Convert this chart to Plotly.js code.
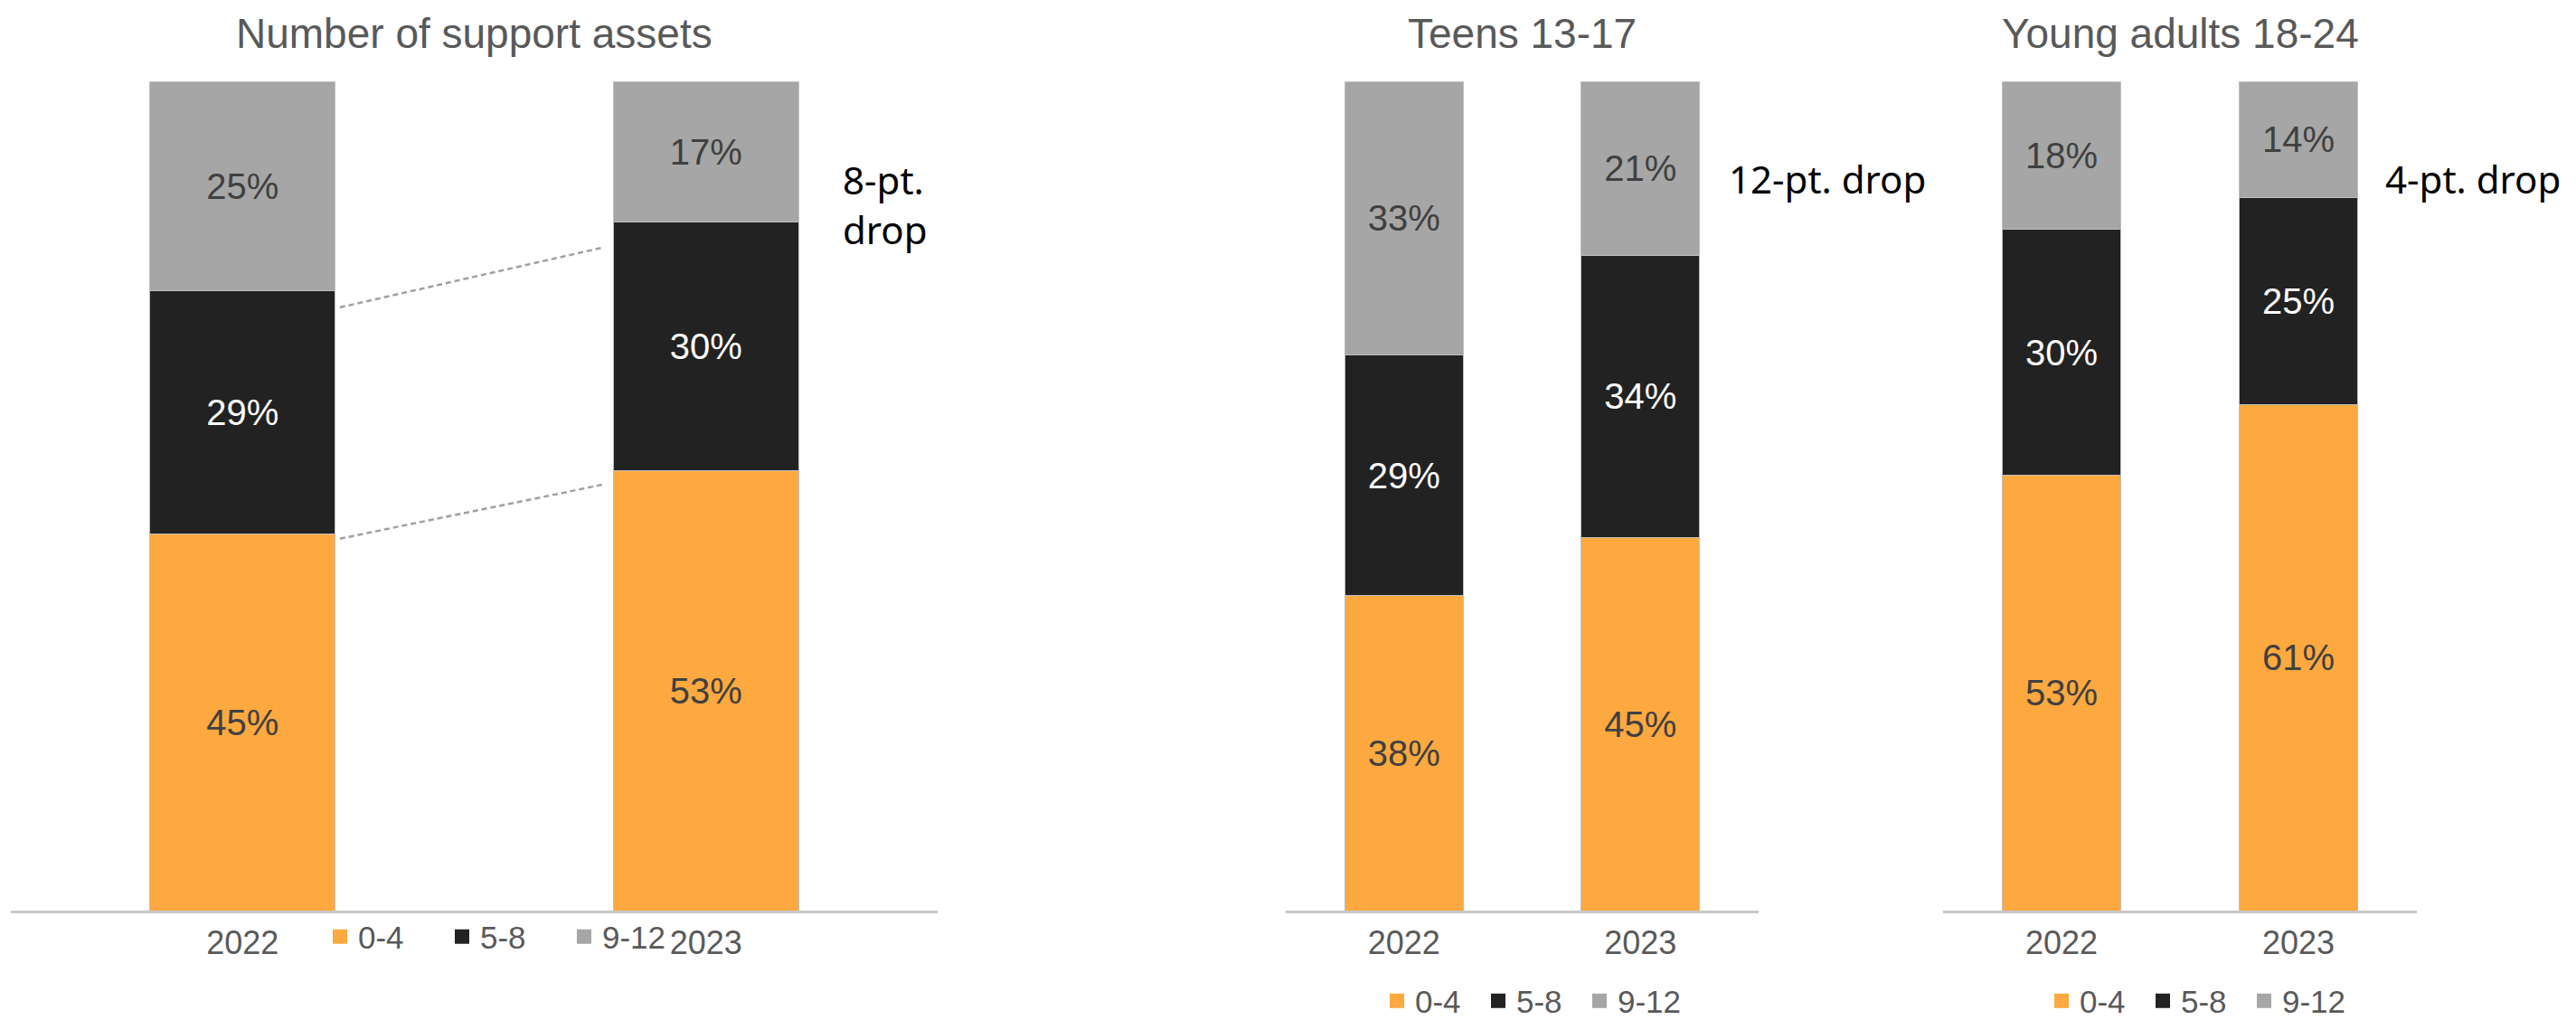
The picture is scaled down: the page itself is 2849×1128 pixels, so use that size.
<!DOCTYPE html>
<html>
<head>
<meta charset="utf-8">
<script src="https://cdn.plot.ly/plotly-3.0.1.min.js"></script>
<style>html,body{margin:0;padding:0;background:#fff;}#chart{width:2849px;height:1128px;}</style>
</head>
<body>
<div id="chart"></div>
<script>
// ---- data ----
const categories = ['2022', '2023'];
const groupLabels = ['0-4', '5-8', '9-12'];
const titles = ['Number of support assets', 'Teens 13-17', 'Young adults 18-24'];
const dropLabels = ['8-pt.<br>drop', '12-pt. drop', '4-pt. drop'];

const allLow = [45, 53];
const allMid = [29, 30];
const allHigh = [25, 17];

const teensLow = [38, 45];
const teensMid = [29, 34];
const teensHigh = [33, 21];

const youngLow = [53, 61];
const youngMid = [30, 25];
const youngHigh = [18, 14];

// ---- style ----
const W = 2849, H = 1128;
const px = v => v / W;
const py = v => 1 - v / H;
const FONT = 'Liberation Sans, Arial, sans-serif';
const colors = ['#FDA940', '#222222', '#A6A6A6'];
const textColors = ['#404040', '#FFFFFF', '#404040'];

const panels = [
  {series: [allLow, allMid, allHigh], ax: '', width: 0.4, dom: [12, 1037], legend: 'legend'},
  {series: [teensLow, teensMid, teensHigh], ax: '2', width: 0.5, dom: [1422, 1945], legend: 'legend2'},
  {series: [youngLow, youngMid, youngHigh], ax: '3', width: 0.5, dom: [2149, 2673], legend: 'legend3'}
];

const traces = [];
panels.forEach((p, pi) => {
  p.series.forEach((vals, si) => {
    traces.push({
      type: 'bar',
      x: categories,
      y: vals,
      width: p.width,
      xaxis: 'x' + p.ax,
      yaxis: 'y' + p.ax,
      name: groupLabels[si],
      showlegend: false,
      marker: {color: colors[si], line: {color: '#BFBFBF', width: 1}},
      text: vals.map(v => v + '%'),
      textposition: 'inside',
      insidetextanchor: 'middle',
      textangle: 0,
      constraintext: 'none',
      textfont: {family: FONT, size: 40, color: textColors[si]},
      hoverinfo: 'skip'
    });
  });
  // legend entries
  groupLabels.forEach((lab, si) => {
    traces.push({
      type: 'scatter', mode: 'markers',
      x: [null], y: [null],
      xaxis: 'x' + p.ax, yaxis: 'y' + p.ax,
      name: lab,
      legend: p.legend,
      showlegend: true,
      marker: {symbol: 'square', size: 18, color: colors[si]},
      hoverinfo: 'skip'
    });
  });
});

const yDom = [1 - 1007 / H, 1 - 90 / H];
const layout = {
  width: W, height: H,
  margin: {l: 0, r: 0, t: 0, b: 0, autoexpand: false},
  paper_bgcolor: '#fff', plot_bgcolor: '#fff',
  barmode: 'stack',
  barnorm: 'percent',
  showlegend: true,
  annotations: [],
  shapes: []
};

const legendX = [356, 1525, 2260];
const legendY = [1036, 1107, 1107];
const entryW = [90, 67, 67];
panels.forEach((p, pi) => {
  layout['xaxis' + p.ax] = {
    domain: [px(p.dom[0]), px(p.dom[1])],
    anchor: 'y' + p.ax,
    type: 'category',
    range: [-0.5, 1.5],
    showline: true, linecolor: '#C8C8C8', linewidth: 3,
    showgrid: false, zeroline: false, ticks: '',
    tickfont: {family: FONT, size: 36, color: '#595959'},
    ticklabelstandoff: 2,
    fixedrange: true
  };
  layout['yaxis' + p.ax] = {
    domain: yDom,
    anchor: 'x' + p.ax,
    range: [0, 100],
    visible: false,
    showgrid: false, zeroline: false,
    fixedrange: true
  };
  layout[p.legend] = {
    orientation: 'h',
    traceorder: 'normal',
    x: px(legendX[pi]), xanchor: 'left',
    y: py(legendY[pi]), yanchor: 'middle',
    font: {family: FONT, size: 35, color: '#595959'},
    bgcolor: 'rgba(0,0,0,0)',
    itemclick: false, itemdoubleclick: false,
    entrywidth: entryW[pi]
  };
  layout.annotations.push({
    text: titles[pi],
    xref: 'x' + p.ax + ' domain', yref: 'paper',
    x: 0.5, y: py(37), xanchor: 'center', yanchor: 'middle',
    showarrow: false,
    font: {family: FONT, size: 46, color: '#595959'}
  });
});

// drop annotations
const dropPos = [[930, 226], [1910, 198], [2636, 198]];
dropLabels.forEach((t, i) => {
  layout.annotations.push({
    text: t,
    xref: 'paper', yref: 'paper',
    x: px(dropPos[i][0]), y: py(dropPos[i][1]),
    xanchor: 'left', yanchor: 'middle', align: 'left',
    showarrow: false,
    font: {family: 'Noto Sans, sans-serif', size: 42, color: '#000'}
  });
});

// dotted connectors between the 2022 and 2023 boundaries (chart 1)
const tot = allLow.map((v, i) => v + allMid[i] + allHigh[i]);
const cumLow = allLow.map((v, i) => v / tot[i] * 100);
const cumMid = allLow.map((v, i) => (v + allMid[i]) / tot[i] * 100);
[[cumLow, -0.6, -1.6], [cumMid, -2.0, -3.0]].forEach(([c, o0, o1]) => {
  layout.shapes.push({
    type: 'line', xref: 'x', yref: 'y',
    x0: 0.21, x1: 0.78,
    y0: c[0] + o0, y1: c[1] + o1,
    line: {color: '#A0A0A0', width: 2.5, dash: '6px,4px'}
  });
});

Plotly.newPlot('chart', traces, layout, {displayModeBar: false, staticPlot: true});
</script>
</body>
</html>
